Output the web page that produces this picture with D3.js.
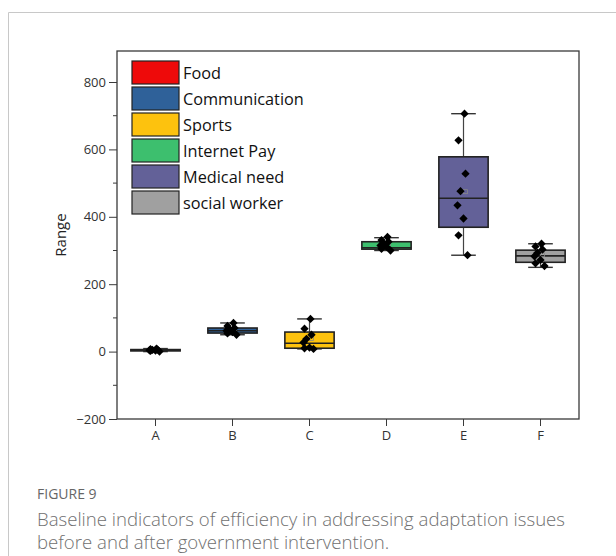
<!DOCTYPE html>
<html>
<head>
<meta charset="utf-8">
<script src="https://cdn.jsdelivr.net/npm/d3@7"></script>
<style>
  html, body { margin: 0; padding: 0; background: #fff; }
  svg { display: block; }
</style>
</head>
<body>
<svg id="chart" width="616" height="556"></svg>
<script>
// Categories and legend names
const categories = ["A", "B", "C", "D", "E", "F"];
const seriesNames = ["Food", "Communication", "Sports", "Internet Pay", "Medical need", "social worker"];
const seriesColors = ["#ee0a0a", "#2f6199", "#fdc20e", "#3dbf6e", "#636198", "#a0a0a0"];

// Box statistics per category
const whiskerMin = [0, 50, 8, 300, 286, 250];
const quartile1 = [2, 55, 10, 304, 369, 265];
const medians = [4, 62, 25, 308, 455, 284];
const quartile3 = [6, 70, 58, 326, 578, 301];
const whiskerMax = [9, 85, 97, 338, 706, 320];

// Raw observations per category
const pointsA = [9, 7, 6, 5, 4, 3, 2, 0];
const pointsB = [85, 76, 70, 66, 62, 58, 54, 50];
const pointsC = [97, 68, 50, 38, 27, 12, 10, 8];
const pointsD = [340, 331, 326, 320, 315, 311, 305, 300];
const pointsE = [706, 627, 528, 476, 434, 395, 345, 286];
const pointsF = [320, 312, 303, 293, 283, 272, 262, 254];
const allPoints = [pointsA, pointsB, pointsC, pointsD, pointsE, pointsF];

// Axis ticks
const yTicks = [-200, 0, 200, 400, 600, 800];
const yMinorTicks = [-100, 100, 300, 500, 700];

const svg = d3.select("#chart");

// Card frame
svg.append("path")
  .attr("d", "M8.5,556 V12.5 H616")
  .attr("fill", "none")
  .attr("stroke", "#c8c8c8")
  .attr("stroke-width", 1);

const plot = { left: 117, right: 579, top: 51, bottom: 419 };

const x = d3.scaleBand()
  .domain(categories)
  .range([plot.left, plot.right])
  .paddingInner(0)
  .paddingOuter(0);

const y = d3.scaleLinear()
  .domain([-200, 892])
  .range([plot.bottom, plot.top]);

const boxW = x.bandwidth() * 0.64;
const capW = boxW * 0.5;
const axisColor = "#3a3a3a";

// Y axis with major and minor ticks
const yAxis = svg.append("g")
  .attr("transform", `translate(${plot.left},0)`)
  .call(d3.axisLeft(y).tickValues(yTicks).tickSize(8).tickPadding(3)
    .tickFormat(d => d < 0 ? "\u2212" + Math.abs(d) : d));
yAxis.select(".domain").remove();
yAxis.selectAll("line").attr("stroke", axisColor);
yAxis.selectAll("text")
  .attr("font-family", "Open Sans, sans-serif")
  .attr("font-size", 13)
  .attr("fill", "#333");

svg.append("g")
  .selectAll("line")
  .data(yMinorTicks)
  .join("line")
  .attr("x1", plot.left - 4)
  .attr("x2", plot.left)
  .attr("y1", d => y(d))
  .attr("y2", d => y(d))
  .attr("stroke", axisColor);

// X axis
const xAxis = svg.append("g")
  .attr("transform", `translate(0,${plot.bottom})`)
  .call(d3.axisBottom(x).tickSize(7).tickPadding(5));
xAxis.select(".domain").remove();
xAxis.selectAll("line").attr("stroke", axisColor);
xAxis.selectAll("text")
  .attr("font-family", "Open Sans, sans-serif")
  .attr("font-size", 13)
  .attr("fill", "#333");

// Plot frame
svg.append("rect")
  .attr("x", plot.left)
  .attr("y", plot.top)
  .attr("width", plot.right - plot.left)
  .attr("height", plot.bottom - plot.top)
  .attr("fill", "none")
  .attr("stroke", axisColor)
  .attr("stroke-width", 1.3);

// Y axis title
svg.append("text")
  .attr("transform", `translate(66,${(plot.top + plot.bottom) / 2}) rotate(-90)`)
  .attr("text-anchor", "middle")
  .attr("font-family", "Open Sans, sans-serif")
  .attr("font-size", 15)
  .attr("fill", "#222")
  .text("Range");

// Boxes
const groups = svg.append("g")
  .selectAll("g")
  .data(categories)
  .join("g")
  .attr("transform", d => `translate(${x(d) + x.bandwidth() / 2},0)`);

groups.append("line")
  .attr("y1", (d, i) => y(whiskerMin[i]))
  .attr("y2", (d, i) => y(whiskerMax[i]))
  .attr("stroke", "#444")
  .attr("stroke-width", 1.2);

groups.append("line")
  .attr("x1", -capW / 2).attr("x2", capW / 2)
  .attr("y1", (d, i) => y(whiskerMax[i]))
  .attr("y2", (d, i) => y(whiskerMax[i]))
  .attr("stroke", "#333")
  .attr("stroke-width", 1.4);

groups.append("line")
  .attr("x1", -capW / 2).attr("x2", capW / 2)
  .attr("y1", (d, i) => y(whiskerMin[i]))
  .attr("y2", (d, i) => y(whiskerMin[i]))
  .attr("stroke", "#333")
  .attr("stroke-width", 1.4);

groups.append("rect")
  .attr("x", -boxW / 2)
  .attr("width", boxW)
  .attr("y", (d, i) => y(quartile3[i]))
  .attr("height", (d, i) => y(quartile1[i]) - y(quartile3[i]))
  .attr("fill", (d, i) => seriesColors[i])
  .attr("stroke", "#222")
  .attr("stroke-width", 1.6);

groups.append("line")
  .attr("x1", -boxW / 2).attr("x2", boxW / 2)
  .attr("y1", (d, i) => y(medians[i]))
  .attr("y2", (d, i) => y(medians[i]))
  .attr("stroke", "#222")
  .attr("stroke-width", 1.6);

// Mean markers
groups.append("rect")
  .attr("x", 0)
  .attr("y", (d, i) => y(d3.mean(allPoints[i])) - 2)
  .attr("width", 4)
  .attr("height", 4)
  .attr("fill", "none")
  .attr("stroke", "#888")
  .attr("stroke-width", 0.8);

// Observation points, offset sideways so they do not overlap
const jitter = [1, -5, 2, -3, -6, 0, -5, 4];
const diamond = d3.symbol().type(d3.symbolDiamond2).size(44);
groups.each(function(d, i) {
  d3.select(this).selectAll("path.pt")
    .data(allPoints[i])
    .join("path")
    .attr("class", "pt")
    .attr("d", diamond)
    .attr("transform", (v, j) => `translate(${jitter[j]},${y(v)})`)
    .attr("fill", "#000");
});

// Legend
const legend = svg.append("g")
  .selectAll("g")
  .data(seriesNames)
  .join("g")
  .attr("transform", (d, i) => `translate(132,${61 + i * 26})`);

legend.append("rect")
  .attr("width", 47)
  .attr("height", 23)
  .attr("fill", (d, i) => seriesColors[i])
  .attr("stroke", "#222")
  .attr("stroke-width", 1.2);

legend.append("text")
  .attr("x", 51)
  .attr("y", 17.5)
  .attr("font-family", "Open Sans, sans-serif")
  .attr("font-size", 16.3)
  .attr("fill", "#111")
  .text(d => d);

// Caption
svg.append("text")
  .attr("x", 37)
  .attr("y", 499)
  .attr("font-family", "Open Sans, sans-serif")
  .attr("font-size", 14)
  .attr("fill", "#666")
  .text("FIGURE 9");

const caption = svg.append("text")
  .attr("font-family", "Open Sans, sans-serif")
  .attr("font-size", 18.6)
  .attr("font-weight", 300)
  .attr("fill", "#707070");
caption.append("tspan").attr("x", 37).attr("y", 526)
  .text("Baseline indicators of efficiency in addressing adaptation issues");
caption.append("tspan").attr("x", 37).attr("y", 549)
  .text("before and after government intervention.");
</script>
</body>
</html>
